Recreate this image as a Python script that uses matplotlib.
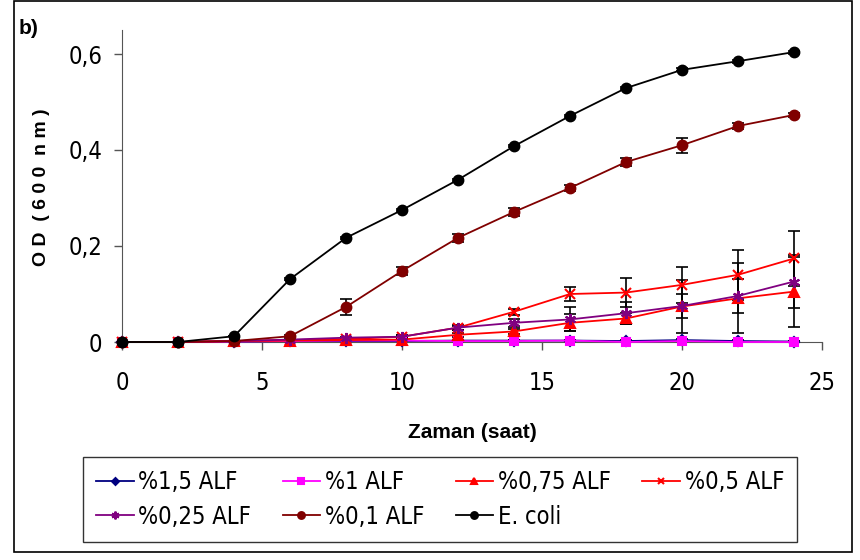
import matplotlib
matplotlib.use("Agg")
import matplotlib.pyplot as plt
from matplotlib.patches import Rectangle
from matplotlib.font_manager import FontProperties

# veriler (saat ve OD 600 nm)
saat = [0, 2, 4, 6, 8, 10, 12, 14, 16, 18, 20, 22, 24]

alf15 = [0, 0, 0.001, 0.002, 0.002, 0.002, 0.003, 0.003, 0.003, 0.002, 0.004, 0.002, 0.001]
alf1 = [0, 0, 0.001, 0.002, 0.003, 0.003, 0.002, 0.002, 0.003, 0.0, 0.002, 0.0, 0.0]
alf075 = [0, 0, 0.002, 0.003, 0.004, 0.005, 0.015, 0.022, 0.040, 0.049, 0.074, 0.091, 0.105]
alf05 = [0, 0, 0.002, 0.004, 0.006, 0.011, 0.030, 0.063, 0.100, 0.103, 0.119, 0.140, 0.174]
alf025 = [0, 0, 0.002, 0.005, 0.009, 0.011, 0.030, 0.040, 0.047, 0.060, 0.075, 0.096, 0.126]
alf01 = [0, 0, 0.002, 0.012, 0.073, 0.148, 0.217, 0.271, 0.321, 0.375, 0.410, 0.450, 0.473]
ecoli = [0, 0, 0.012, 0.131, 0.217, 0.275, 0.338, 0.408, 0.471, 0.529, 0.567, 0.585, 0.604]

err15 = [0, 0, 0, 0, 0, 0.002, 0.002, 0.002, 0.002, 0.002, 0.002, 0.002, 0.002]
err1 = [0, 0, 0, 0, 0, 0.002, 0.002, 0.002, 0.002, 0.002, 0.002, 0.002, 0.002]
err075 = [0, 0, 0, 0, 0, 0.002, 0.004, 0.006, 0.018, 0.012, 0.055, 0.073, 0.073]
err05 = [0, 0, 0, 0, 0.002, 0.003, 0.005, 0.006, 0.015, 0.030, 0.037, 0.052, 0.058]
err025 = [0, 0, 0, 0, 0.002, 0.003, 0.004, 0.008, 0.025, 0.023, 0.026, 0.036, 0.055]
err01 = [0, 0, 0, 0.003, 0.016, 0.008, 0.008, 0.008, 0.006, 0.008, 0.016, 0.006, 0.005]
err_ecoli = [0, 0, 0, 0.002, 0.002, 0.002, 0.002, 0.002, 0.002, 0.002, 0.003, 0.003, 0.003]

etiketler = ["%1,5 ALF", "%1 ALF", "%0,75 ALF", "%0,5 ALF", "%0,25 ALF", "%0,1 ALF", "E. coli"]

# dar yazi tipi (Arial Narrow yerine)
narrow = FontProperties(family="DejaVu Sans", stretch="condensed", size=17)

fig = plt.figure(figsize=(8.6, 5.6), dpi=100)
ax = fig.add_axes([122 / 860, 1 - 342 / 560, 700 / 860, 312 / 560])

seriler = [
    (alf15, err15, "#000080", "D", 5),
    (alf1, err1, "#FF00FF", "s", 6),
    (alf075, err075, "#FF0000", "^", 7),
    (alf05, err05, "#FF0000", "x", 7),
    (alf025, err025, "#800080", (6, 2, 0), 8),
    (alf01, err01, "#800000", "o", 7),
    (ecoli, err_ecoli, "#000000", "o", 7),
]

handles = []
for (y, e, c, m, ms), lab in zip(seriler, etiketler):
    ax.errorbar(saat, y, yerr=e, fmt="none", ecolor="black", elinewidth=1.2,
                capsize=4, capthick=1.2, zorder=2)
    h, = ax.plot(saat, y, color=c, marker=m, markersize=ms, lw=1.3,
                 markeredgecolor=c, markeredgewidth=1.5, label=lab, zorder=3,
                 clip_on=False)
    handles.append(h)

ax.set_xlim(0, 25)
ax.set_ylim(0, 0.65)
ax.set_xticks([0, 5, 10, 15, 20, 25])
ax.set_yticks([0, 0.2, 0.4, 0.6])
ax.set_yticklabels(["0", "0,2", "0,4", "0,6"])
for sp in ["top", "right"]:
    ax.spines[sp].set_visible(False)
ax.spines["left"].set_color("#555555")
ax.spines["bottom"].set_color("#555555")
ax.tick_params(direction="out", length=6, width=1, color="#555555", pad=8)
ax.tick_params(axis="x", pad=15)
for t in ax.get_xticklabels() + ax.get_yticklabels():
    t.set_fontproperties(narrow)

fig.text(472 / 860, 1 - 432 / 560, "Zaman (saat)", ha="center", va="center",
         fontsize=15, fontweight="bold", family="Liberation Sans")
fig.text(42 / 860, 1 - 187 / 560, "O D  ( 6 0 0  n m )", ha="center", va="center",
         rotation=90, fontsize=14, fontweight="bold", family="Liberation Sans")
fig.text(19 / 860, 1 - 28 / 560, "b)", ha="left", va="center", fontsize=15,
         fontweight="bold", family="Liberation Sans")

# lejant satir sirasiyla
sira = [0, 4, 1, 5, 2, 6, 3]
leg = fig.legend([handles[i] for i in sira], [etiketler[i] for i in sira],
                 ncol=4, loc="upper left",
                 bbox_to_anchor=(83 / 860, 1 - 457 / 560, 714 / 860, 0),
                 mode="expand", borderaxespad=0, frameon=True, fancybox=False,
                 edgecolor="black", prop=narrow, markerscale=0.7,
                 handlelength=1.6, handletextpad=0.2, labelspacing=0.45,
                 borderpad=0.55, columnspacing=1.0)
leg.get_frame().set_linewidth(1.0)

fig.patches.append(Rectangle((14 / 860, 8 / 560), 838 / 860, 551 / 560,
                             transform=fig.transFigure, fill=False,
                             edgecolor="black", lw=1.2))

fig.savefig("out.png", dpi=100)
